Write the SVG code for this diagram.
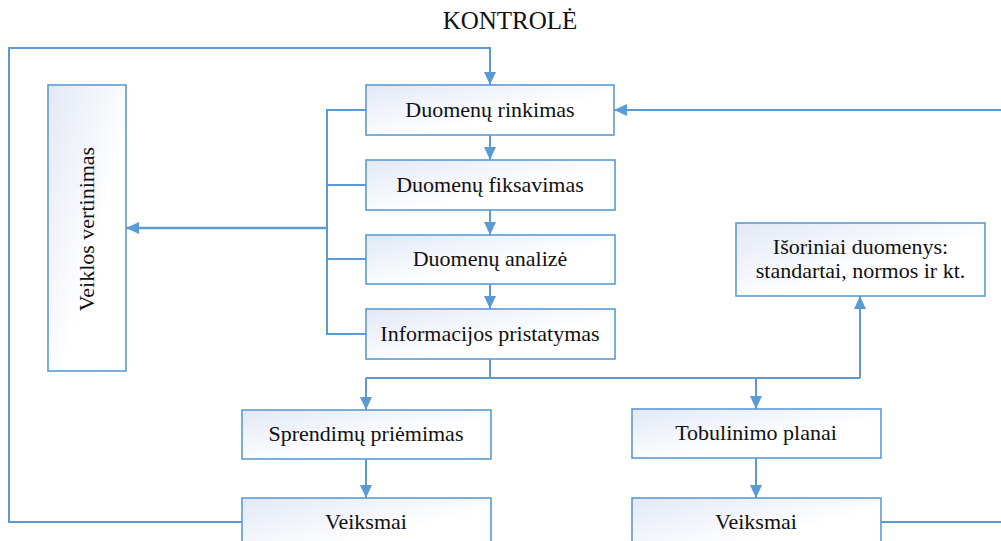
<svg xmlns="http://www.w3.org/2000/svg" width="1001" height="541" viewBox="0 0 1001 541">
<style>
.box{fill:url(#g);stroke:#5b9bd5;stroke-width:1.6}
.t{font-family:"Liberation Serif","Times New Roman",serif;font-size:22px;fill:#111;text-anchor:middle}
.c{fill:none;stroke:#5b9bd5;stroke-width:2}
</style>
<defs>
<linearGradient id="g" x1="0" y1="0" x2="1" y2="1">
<stop offset="0" stop-color="#e2e8f5"/>
<stop offset="0.6" stop-color="#ffffff"/>
</linearGradient>
<marker id="a" markerUnits="userSpaceOnUse" markerWidth="13" markerHeight="12" refX="13" refY="6" orient="auto" viewBox="0 0 13 12">
<path d="M0,0 L13,6 L0,12 z" fill="#5b9bd5"/>
</marker>
</defs>
<text x="510" y="29" class="t" style="font-size:25px">KONTROLĖ</text>
<g id="connectors">
<path class="c" d="M242 522 H9 V48 H490 V85" marker-end="url(#a)"/>
<path class="c" d="M490 135 V160" marker-end="url(#a)"/>
<path class="c" d="M490 210 V235" marker-end="url(#a)"/>
<path class="c" d="M490 284 V309" marker-end="url(#a)"/>
<path class="c" d="M366 110 H327 V334 H366 M366 185 H327 M366 259 H327"/>
<path class="c" style="stroke-width:2.6" d="M327 228 H126" marker-end="url(#a)"/>
<path class="c" d="M1001 110 H614" marker-end="url(#a)"/>
<path class="c" d="M490 359 V378 M366 378 H860"/>
<path class="c" d="M366 378 V410" marker-end="url(#a)"/>
<path class="c" d="M756 378 V409" marker-end="url(#a)"/>
<path class="c" d="M860 378 V296" marker-end="url(#a)"/>
<path class="c" d="M366 459 V498" marker-end="url(#a)"/>
<path class="c" d="M756 458 V498" marker-end="url(#a)"/>
<path class="c" d="M880 522 H1001"/>
</g>
<g id="rinkimas"><rect class="box" x="366" y="85" width="248" height="50"/><text class="t" x="490" y="117">Duomenų rinkimas</text></g>
<g id="fiksavimas"><rect class="box" x="366" y="160" width="249" height="50"/><text class="t" x="490" y="192">Duomenų fiksavimas</text></g>
<g id="analize"><rect class="box" x="366" y="235" width="249" height="49"/><text class="t" x="490" y="266">Duomenų analizė</text></g>
<g id="pristatymas"><rect class="box" x="366" y="309" width="249" height="50"/><text class="t" x="490" y="341">Informacijos pristatymas</text></g>
<g id="vertinimas"><rect class="box" x="48" y="85" width="78" height="286"/><text class="t" transform="translate(94 229) rotate(-90)" x="0" y="0">Veiklos vertinimas</text></g>
<g id="isoriniai"><rect class="box" x="736" y="223" width="249" height="73"/><text class="t" x="860.5" y="254">Išoriniai duomenys:</text><text class="t" x="860.5" y="278">standartai, normos ir kt.</text></g>
<g id="sprendimu"><rect class="box" x="242" y="410" width="249" height="49"/><text class="t" x="366" y="441">Sprendimų priėmimas</text></g>
<g id="tobulinimo"><rect class="box" x="632" y="409" width="249" height="49"/><text class="t" x="756" y="440">Tobulinimo planai</text></g>
<g id="veiksmai1"><rect class="box" x="242" y="498" width="249" height="60"/><text class="t" x="366" y="529">Veiksmai</text></g>
<g id="veiksmai2"><rect class="box" x="632" y="498" width="249" height="60"/><text class="t" x="756" y="529">Veiksmai</text></g>
</svg>
